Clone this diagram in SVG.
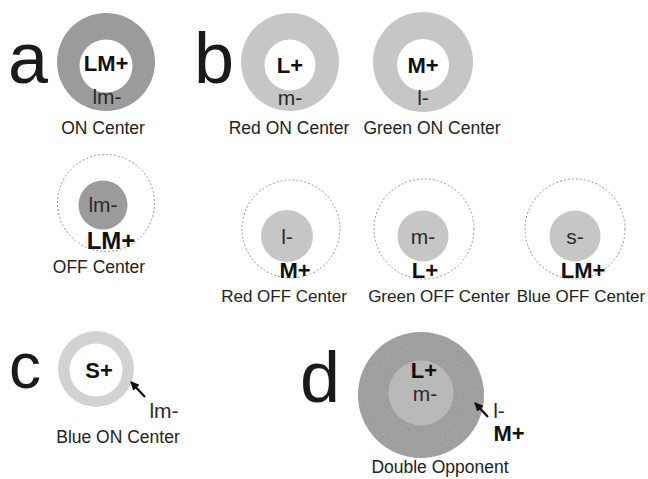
<svg xmlns="http://www.w3.org/2000/svg" width="648" height="479" viewBox="0 0 648 479">
<defs>
<style>
text{font-family:"Liberation Sans",Arial,sans-serif;}
.big{font-size:72px;fill:#1a1a1a;}
.lbl{font-size:17.5px;fill:#222;text-anchor:middle;}
.bold{font-size:22px;font-weight:bold;fill:#111;text-anchor:middle;}
.neg{font-size:21px;fill:#2a2a2a;text-anchor:middle;}
.dash{fill:none;stroke:#8a8a8a;stroke-width:0.9;stroke-dasharray:2 2;}
.dark{fill:#9b9b9b;}
.light{fill:#c6c6c6;}
.arrow{stroke:#111;stroke-width:2.2;fill:none;marker-end:url(#ah);}
</style>
<marker id="ah" viewBox="0 0 10 10" refX="9" refY="5" markerWidth="4" markerHeight="4" orient="auto"><path d="M0,0 L10,5 L0,10 z" fill="#111"/></marker>
<filter id="grain" x="0" y="0" width="100%" height="100%">
<feTurbulence type="fractalNoise" baseFrequency="0.45" numOctaves="3" seed="7"/>
<feColorMatrix type="matrix" values="0 0 0 0 0.3  0 0 0 0 0.3  0 0 0 0 0.3  1.4 0 0 0 -0.5"/>
<feComposite in2="SourceGraphic" operator="in"/>
</filter>
</defs>
<rect width="648" height="479" fill="#fff"/>

<g id="panel-letters">
<text class="big" x="8" y="83">a</text>
<text class="big" x="194" y="83">b</text>
<text class="big" x="9" y="388" style="font-size:64px">c</text>
<text class="big" x="300" y="402">d</text>
</g>

<g id="a-on">
<circle cx="106" cy="62" r="49" class="dark"/>
<circle cx="106" cy="66" r="26.5" fill="#fff"/>
<text class="bold" x="106" y="71">LM+</text>
<text class="neg" x="107" y="104">lm-</text>
<text class="lbl" x="103" y="134">ON Center</text>
</g>

<g id="a-off">
<circle cx="106" cy="203" r="48.5" class="dash"/>
<circle cx="103" cy="205" r="24.5" class="dark"/>
<text class="neg" x="103" y="212">lm-</text>
<text class="bold" x="111" y="249" style="font-size:24px">LM+</text>
<text class="lbl" x="99" y="273">OFF Center</text>
</g>

<g id="b-red-on">
<circle cx="290" cy="62" r="49" class="light"/>
<circle cx="290" cy="65" r="25.5" fill="#fff"/>
<text class="bold" x="290" y="73">L+</text>
<text class="neg" x="290" y="105">m-</text>
<text class="lbl" x="289" y="134">Red ON Center</text>
</g>

<g id="b-green-on">
<circle cx="423" cy="62" r="50" class="light"/>
<circle cx="423" cy="65" r="26" fill="#fff"/>
<text class="bold" x="423" y="73">M+</text>
<text class="neg" x="423" y="105">l-</text>
<text class="lbl" x="432" y="134">Green ON Center</text>
</g>

<g id="b-red-off">
<circle cx="291" cy="229" r="49" class="dash"/>
<circle cx="287" cy="236" r="26" class="light"/>
<text class="neg" x="287" y="244">l-</text>
<text class="bold" x="295" y="278">M+</text>
<text class="lbl" x="284" y="302" style="font-size:17px">Red OFF Center</text>
</g>

<g id="b-green-off">
<circle cx="424" cy="229" r="50" class="dash"/>
<circle cx="423" cy="236" r="25.5" class="light"/>
<text class="neg" x="423" y="244">m-</text>
<text class="bold" x="425" y="278">L+</text>
<text class="lbl" x="439" y="302" style="font-size:17px">Green OFF Center</text>
</g>

<g id="b-blue-off">
<circle cx="575" cy="229" r="50" class="dash"/>
<circle cx="575" cy="236" r="25.5" class="light"/>
<text class="neg" x="575" y="244">s-</text>
<text class="bold" x="583" y="278">LM+</text>
<text class="lbl" x="581" y="302" style="font-size:17px">Blue OFF Center</text>
</g>

<g id="c-blue-on">
<circle cx="96" cy="369" r="38" fill="#d2d2d2"/>
<circle cx="96" cy="370" r="26.5" fill="#fff"/>
<text class="bold" x="99" y="378">S+</text>
<text class="neg" x="164" y="418">lm-</text>
<text class="lbl" x="118" y="443">Blue ON Center</text>
</g>

<g id="d-double">
<circle cx="421" cy="395" r="63" fill="#a2a2a2"/>
<circle cx="421" cy="395" r="63" fill="#000" filter="url(#grain)"/>
<circle cx="421" cy="393" r="32.5" fill="#b9b9b9"/>
<text class="bold" x="424" y="378">L+</text>
<text class="neg" x="425" y="401">m-</text>
<text class="neg" x="499" y="418">l-</text>
<text class="bold" x="509" y="441">M+</text>
<text class="lbl" x="440" y="473">Double Opponent</text>
</g>

<g id="connectors">
<line class="arrow" x1="145" y1="397" x2="131" y2="382"/>
<line class="arrow" x1="488" y1="417" x2="475" y2="403"/>
</g>
</svg>
